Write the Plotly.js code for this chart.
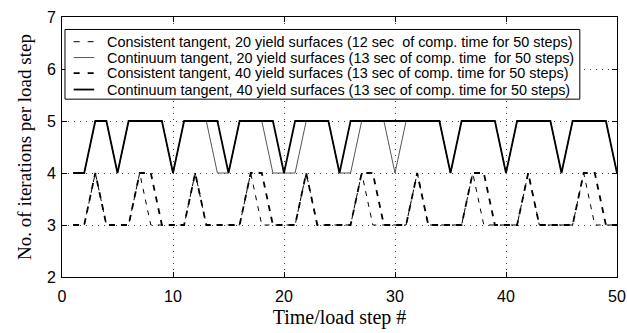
<!DOCTYPE html>
<html>
<head>
<meta charset="utf-8">
<script src="https://cdn.plot.ly/plotly-3.0.1.min.js"></script>
<style>
  html, body { margin: 0; padding: 0; background: #fff; }
  #chart { width: 627px; height: 333px; }
</style>
</head>
<body>
<div id="chart"></div>
<script>
// Load steps 1..50
const steps = Array.from({length: 50}, (_, i) => i + 1);

// Iterations per load step for each scheme
const consistent20 = [3,3,4,3,3,3,4,3,3,3, 3,4,3,3,3,3,4,3,3,3, 3,4,3,3,3,3,4,3,3,3, 3,4,3,3,3,3,4,3,3,3, 3,4,3,3,3,3,4,3,3,3];
const continuum20  = [4,4,5,5,4,5,5,5,5,4, 5,5,5,4,4,5,5,5,4,4, 4,5,5,5,4,4,5,5,5,4, 5,5,5,5,4,5,5,5,5,4, 5,5,5,5,4,5,5,5,5,4];
const consistent40 = [3,3,4,3,3,3,4,4,3,3, 3,4,3,3,3,3,4,4,3,3, 3,4,3,3,3,3,4,4,3,3, 3,4,3,3,3,3,4,4,3,3, 3,4,3,3,3,3,4,4,3,3];
const continuum40  = [4,4,5,5,4,5,5,5,5,4, 5,5,5,5,4,5,5,5,5,4, 5,5,5,5,4,5,5,5,5,5, 5,5,5,5,4,5,5,5,5,4, 5,5,5,5,4,5,5,5,5,4];

const seriesNames = [
  'Consistent tangent, 20 yield surfaces (12 sec\u00a0 of comp. time for 50 steps)',
  'Continuum tangent, 20 yield surfaces (13 sec of comp. time\u00a0 for 50 steps)',
  'Consistent tangent, 40 yield surfaces (13 sec of comp. time for 50 steps)',
  'Continuum tangent, 40 yield surfaces (13 sec of comp. time for 50 steps)'
];

const lineStyles = [
  {color: '#000', width: 1, dash: '5px,6px'},
  {color: '#555', width: 1, dash: 'solid'},
  {color: '#000', width: 1.8, dash: '6px,6px'},
  {color: '#000', width: 1.8, dash: 'solid'}
];

const seriesValues = [consistent20, continuum20, consistent40, continuum40];

const traces = seriesValues.map((vals, i) => ({
  x: steps, y: vals, name: seriesNames[i], mode: 'lines',
  line: lineStyles[i], showlegend: false
}));

// Boxed key in the upper-left corner, laid out in paper coordinates
const sansFont = 'Liberation Sans, Arial, sans-serif';
const serifFont = 'Liberation Serif, Times New Roman, serif';
const keyBox = {x0: 0.0054, x1: 0.933, y0: 0.684, y1: 0.952};
const keyRows = [0.905, 0.844, 0.784, 0.721];
const keySymbol = {x0: 0.021, x1: 0.058};
const keyTextX = 0.077;

const shapes = [{
  type: 'rect', xref: 'paper', yref: 'paper',
  x0: keyBox.x0, x1: keyBox.x1, y0: keyBox.y0, y1: keyBox.y1,
  line: {color: '#000', width: 1}, fillcolor: '#fff', layer: 'above'
}];
const annotations = [];
keyRows.forEach((ry, i) => {
  shapes.push({
    type: 'line', xref: 'paper', yref: 'paper',
    x0: keySymbol.x0, x1: keySymbol.x1, y0: ry, y1: ry,
    line: {color: lineStyles[i].color, width: lineStyles[i].width,
           dash: lineStyles[i].dash === 'solid' ? 'solid' : '6px,8px'},
    layer: 'above'
  });
  annotations.push({
    xref: 'paper', yref: 'paper', x: keyTextX, y: ry,
    xanchor: 'left', yanchor: 'middle', showarrow: false,
    text: seriesNames[i],
    font: {family: sansFont, size: 14.4, color: '#000'}
  });
});

const axisCommon = {
  showline: true, linecolor: '#000', linewidth: 1, mirror: 'ticks',
  ticks: 'inside', ticklen: 5, tickcolor: '#000',
  showgrid: true, gridcolor: '#444', gridwidth: 1, griddash: '1px,5px',
  zeroline: false,
  tickfont: {family: sansFont, size: 16, color: '#000'}
};

const layout = {
  width: 627, height: 333,
  margin: {l: 62, r: 10, t: 17, b: 56},
  paper_bgcolor: '#fff', plot_bgcolor: '#fff',
  showlegend: false,
  shapes: shapes,
  annotations: annotations,
  xaxis: Object.assign({}, axisCommon, {
    range: [0, 50], dtick: 10, tick0: 0, ticklabelstandoff: 5,
    title: {text: 'Time/load step #', standoff: 5,
            font: {family: serifFont, size: 20, color: '#000'}}
  }),
  yaxis: Object.assign({}, axisCommon, {
    range: [2, 7], dtick: 1, tick0: 2, ticklabelstandoff: 2,
    title: {text: 'No. of iterations per load step', standoff: 10,
            font: {family: serifFont, size: 19, color: '#000'}}
  })
};

Plotly.newPlot('chart', traces, layout, {displayModeBar: false, staticPlot: true});
</script>
</body>
</html>
